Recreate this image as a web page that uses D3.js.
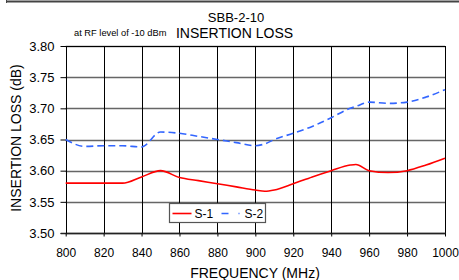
<!DOCTYPE html>
<html>
<head>
<meta charset="utf-8">
<script src="https://cdn.jsdelivr.net/npm/d3@7"></script>
<style>
  body { margin: 0; background: #fff; }
  text { font-family: Arial, "Liberation Sans", sans-serif; fill: #000; }
</style>
</head>
<body>
<svg id="chart" width="459" height="280"></svg>
<script>
// frequency points (MHz)
var freq = [800, 810, 820, 830, 840, 850, 860, 870, 880, 890, 900, 905, 910, 920, 930, 940, 950, 953, 960, 970, 980, 990, 1000];
// insertion loss (dB)
var s1 = [3.58, 3.58, 3.58, 3.58, 3.59, 3.60, 3.589, 3.584, 3.579, 3.574, 3.569, 3.567, 3.569, 3.579, 3.59, 3.60, 3.609, 3.61, 3.60, 3.597, 3.60, 3.609, 3.62];
var s2 = [3.65, 3.639, 3.64, 3.64, 3.638, 3.662, 3.66, 3.655, 3.65, 3.645, 3.64, 3.643, 3.65, 3.66, 3.671, 3.685, 3.70, 3.703, 3.71, 3.708, 3.71, 3.718, 3.73];
var seriesNames = ["S-1", "S-2"];
var xTicks = [800, 820, 840, 860, 880, 900, 920, 940, 960, 980, 1000];
var yTicks = [3.50, 3.55, 3.60, 3.65, 3.70, 3.75, 3.80];

var svg = d3.select("#chart");
var plotL = 65.7, plotR = 445, plotT = 46, plotB = 233;

var x = d3.scaleLinear().domain([800, 1000]).range([plotL, plotR]);
var y = d3.scaleLinear().domain([3.5, 3.8]).range([plotB, plotT]);

// page frame remnant at top
svg.append("line").attr("x1", 6).attr("x2", 459).attr("y1", 1.5).attr("y2", 1.5)
    .attr("stroke", "#444").attr("stroke-width", 2);
svg.append("line").attr("x1", 6.5).attr("x2", 6.5).attr("y1", 0).attr("y2", 3)
    .attr("stroke", "#444").attr("stroke-width", 1);

// horizontal grid
svg.append("g").selectAll("line").data(yTicks).join("line")
    .attr("x1", plotL).attr("x2", plotR)
    .attr("y1", function (d) { return Math.round(y(d)) + 0.5; })
    .attr("y2", function (d) { return Math.round(y(d)) + 0.5; })
    .attr("stroke", "#666").attr("stroke-width", 1.3);

// vertical grid
svg.append("g").selectAll("line").data(xTicks).join("line")
    .attr("x1", function (d) { return Math.round(x(d)) + 0.5; })
    .attr("x2", function (d) { return Math.round(x(d)) + 0.5; })
    .attr("y1", plotT).attr("y2", plotB)
    .attr("stroke", "#000").attr("stroke-width", 1);

// frame top
svg.append("line").attr("x1", plotL).attr("x2", plotR + 1)
    .attr("y1", Math.round(plotT) + 0.5).attr("y2", Math.round(plotT) + 0.5)
    .attr("stroke", "#000").attr("stroke-width", 1);

// axes
var yAxis = d3.axisLeft(y).tickValues(yTicks).tickSize(6).tickPadding(6)
    .tickFormat(d3.format(".2f"));
var gy = svg.append("g").attr("transform", "translate(" + (Math.round(plotL) + 0.5) + ",0)").call(yAxis);
gy.select(".domain").remove();
gy.selectAll(".tick line").attr("stroke", "#000");
gy.selectAll(".tick text").attr("font-size", 13).attr("fill", "#000")
    .attr("font-family", "Arial, 'Liberation Sans', sans-serif");

var xAxis = d3.axisBottom(x).tickValues(xTicks).tickSize(3).tickPadding(12)
    .tickFormat(d3.format("d"));
var gx = svg.append("g").attr("transform", "translate(0," + (Math.round(plotB) + 0.5) + ")").call(xAxis);
gx.select(".domain").attr("stroke", "#222").attr("stroke-width", 1.5).attr("d", "M" + (plotL - 5) + ",0H" + (plotR + 1));
gx.selectAll(".tick line").attr("stroke", "#000");
gx.selectAll(".tick text").attr("font-size", 12).attr("fill", "#000")
    .attr("font-family", "Arial, 'Liberation Sans', sans-serif");

// series lines
var line = d3.line()
    .x(function (d) { return x(d[0]); })
    .y(function (d) { return y(d[1]); })
    .curve(d3.curveMonotoneX);

svg.append("path").datum(d3.zip(freq, s1))
    .attr("d", line).attr("fill", "none")
    .attr("stroke", "#ff0000").attr("stroke-width", 1.6);

svg.append("path").datum(d3.zip(freq, s2))
    .attr("d", line).attr("fill", "none")
    .attr("stroke", "#3366ff").attr("stroke-width", 1.6)
    .attr("stroke-dasharray", "7,4");

// legend
var lg = svg.append("g").attr("transform", "translate(169.5,203.5)");
lg.append("rect").attr("width", 96).attr("height", 19)
    .attr("fill", "#fff").attr("stroke", "#555").attr("stroke-width", 1.2);
lg.append("line").attr("x1", 3).attr("x2", 22).attr("y1", 10).attr("y2", 10)
    .attr("stroke", "#ff0000").attr("stroke-width", 1.6);
lg.append("text").attr("x", 25).attr("y", 14.5).attr("font-size", 12).text(seriesNames[0]);
lg.append("line").attr("x1", 52).attr("x2", 72).attr("y1", 10).attr("y2", 10)
    .attr("stroke", "#3366ff").attr("stroke-width", 1.6).attr("stroke-dasharray", "7,10,1,4");
lg.append("text").attr("x", 75).attr("y", 14.5).attr("font-size", 12).text(seriesNames[1]);

// titles
svg.append("text").attr("x", 236).attr("y", 22).attr("text-anchor", "middle")
    .attr("font-size", 13).text("SBB-2-10");
svg.append("text").attr("x", 234.5).attr("y", 37.5).attr("text-anchor", "middle")
    .attr("font-size", 14).text("INSERTION LOSS");
svg.append("text").attr("x", 74).attr("y", 36).attr("font-size", 9.3).text("at RF level of -10 dBm");

svg.append("text").attr("x", 255).attr("y", 278).attr("text-anchor", "middle")
    .attr("font-size", 14).text("FREQUENCY (MHz)");
svg.append("text").attr("transform", "translate(21,138) rotate(-90)")
    .attr("text-anchor", "middle").attr("font-size", 14).text("INSERTION LOSS (dB)");
</script>
</body>
</html>
